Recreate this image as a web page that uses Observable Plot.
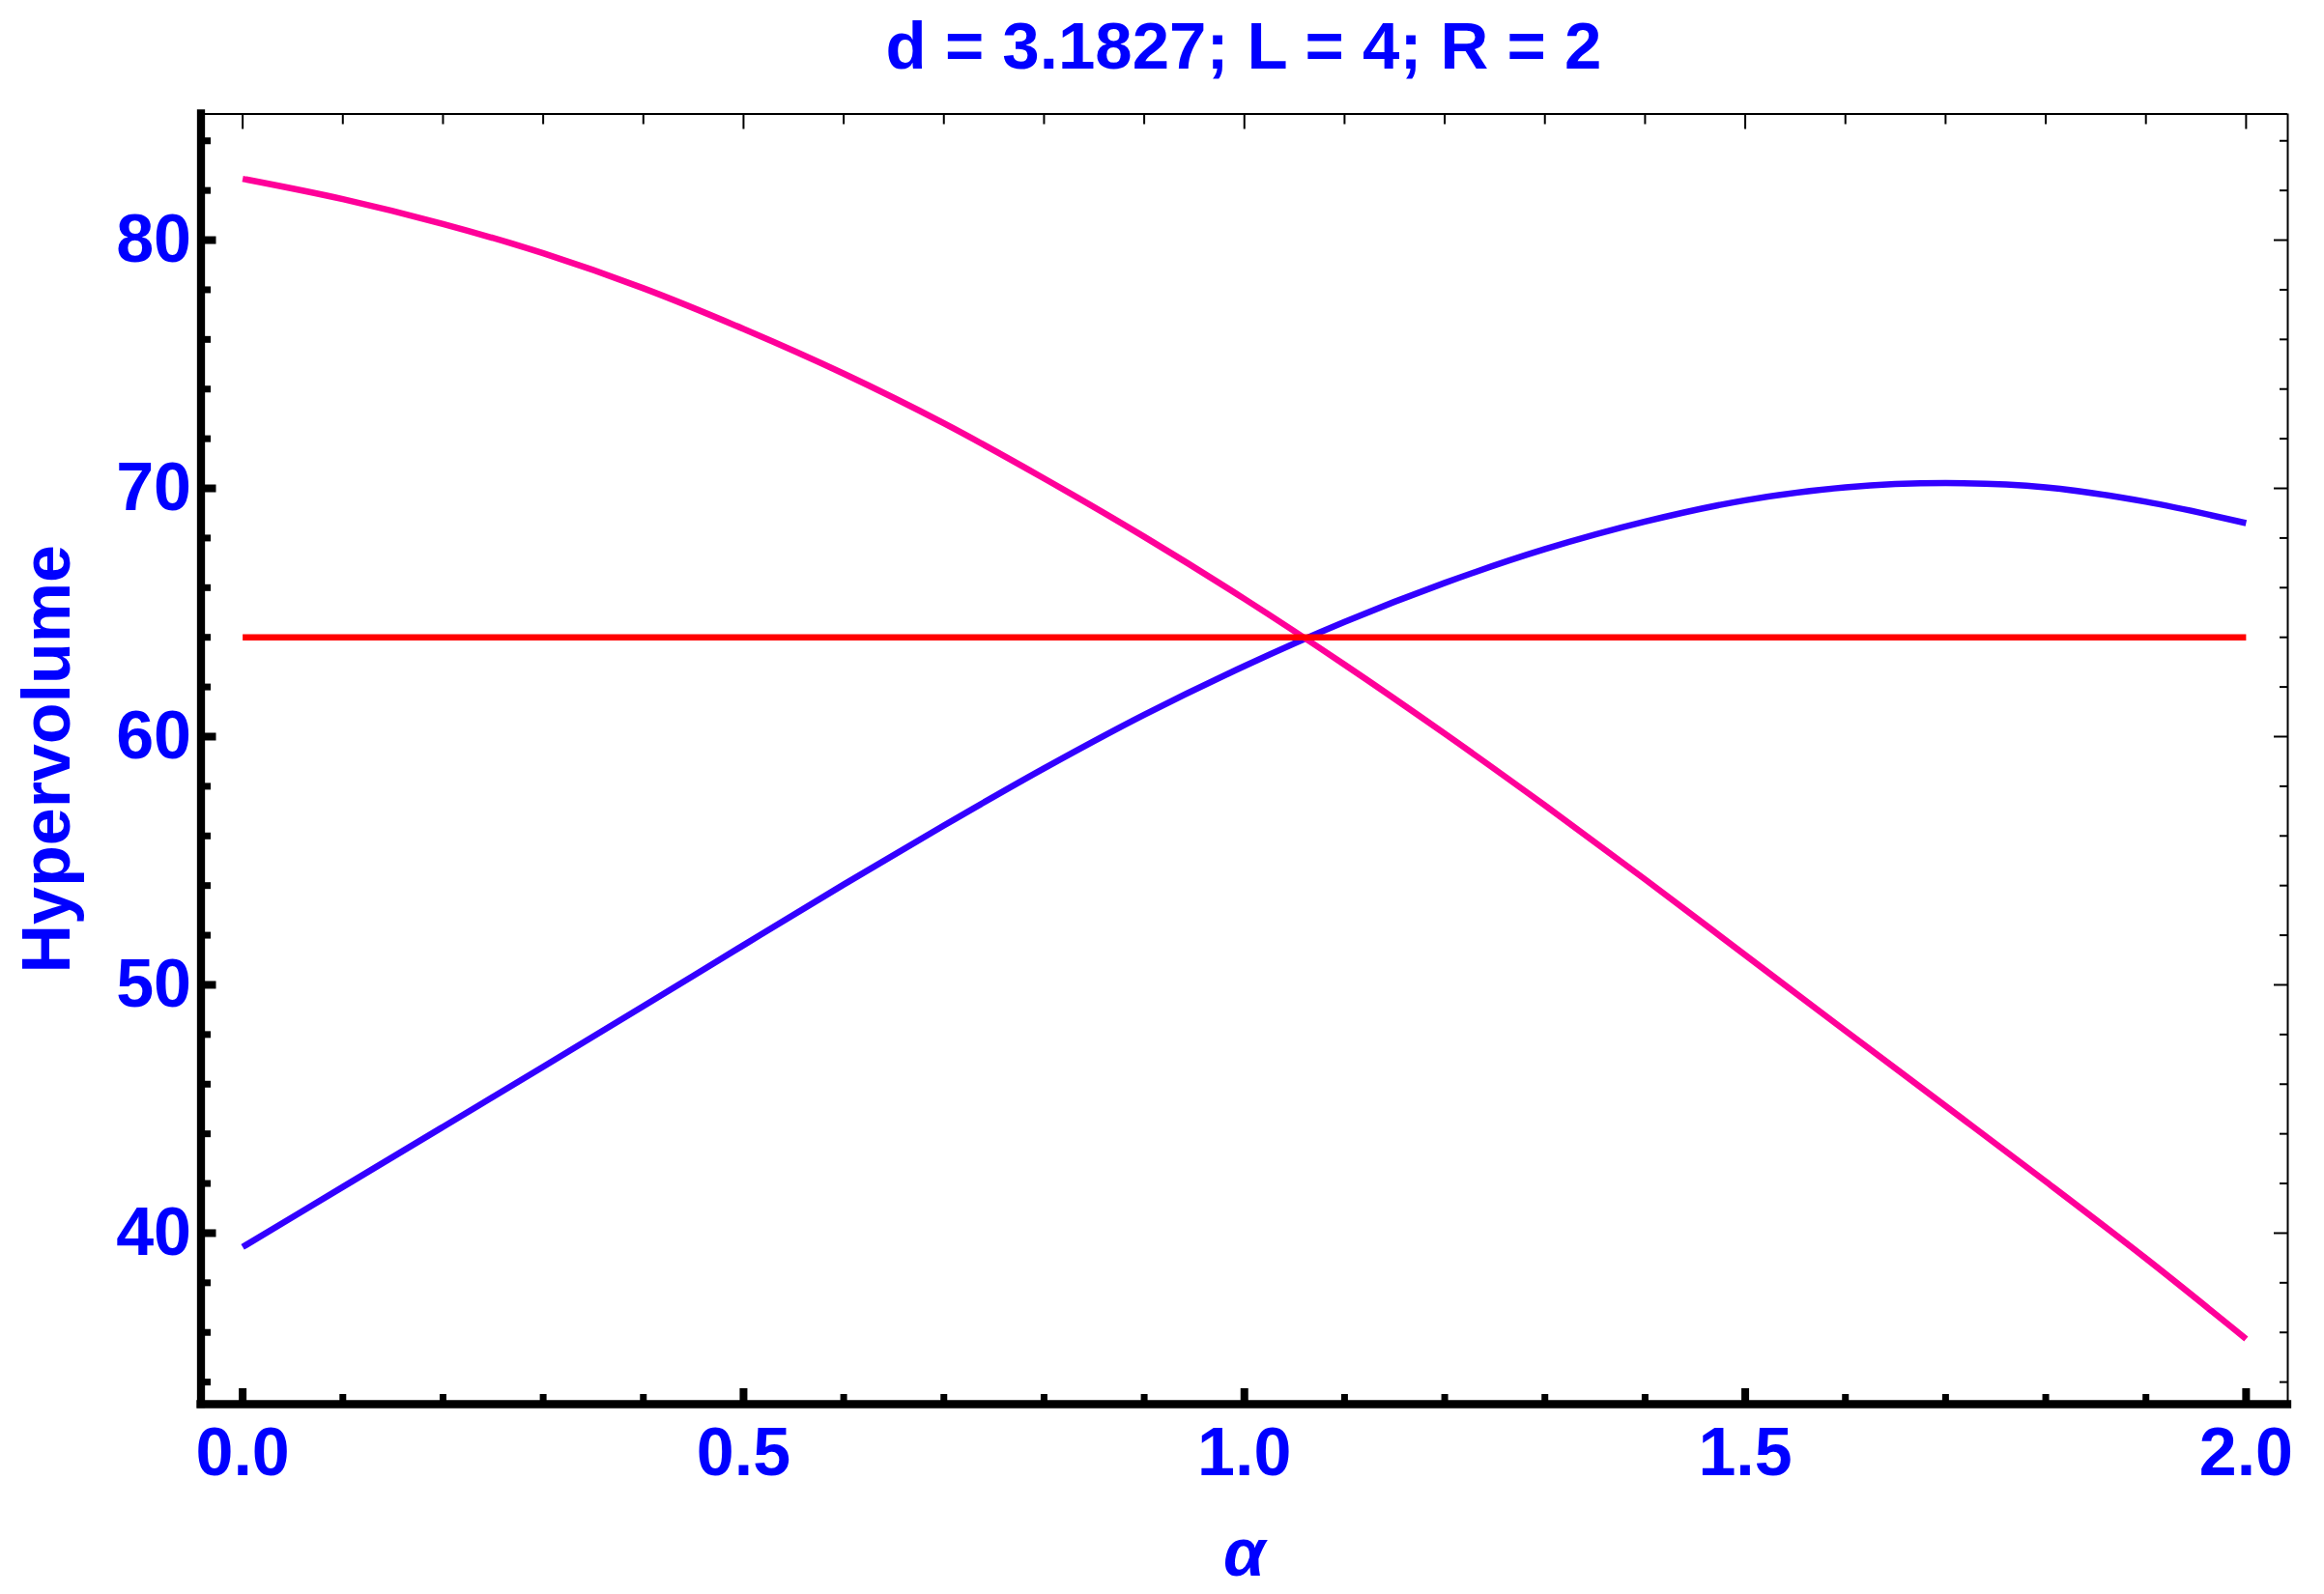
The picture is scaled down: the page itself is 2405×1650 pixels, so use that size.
<!DOCTYPE html>
<html>
<head>
<meta charset="utf-8">
<script src="https://cdn.jsdelivr.net/npm/d3@7"></script>
<script src="https://cdn.jsdelivr.net/npm/@observablehq/plot@0.6"></script>
<style>
html, body { margin: 0; padding: 0; background: #ffffff; }
body { width: 2405px; height: 1650px; overflow: hidden; font-family: "Liberation Sans", Arial, sans-serif; }
#title {
  box-sizing: border-box; width: 2405px; height: 100px;
  padding-left: 207px; padding-right: 38px;
  text-align: center; font-size: 69px; font-weight: bold; color: #0000ff;
  line-height: 95px; white-space: nowrap;
}
#chart svg { display: block; }
</style>
</head>
<body>
<div id="title">d = 3.1827; L = 4; R = 2</div>
<div id="chart"></div>
<script>
// ---- data ----
const alpha = [0, 0.1, 0.2, 0.3, 0.4, 0.5, 0.6, 0.7, 0.8, 0.9, 1.0,
               1.1, 1.2, 1.3, 1.4, 1.5, 1.6, 1.7, 1.8, 1.9, 2.0];
const blueValues = [39.44, 41.86, 44.28, 46.70, 49.14, 51.60, 54.04, 56.42, 58.72, 60.88, 62.84,
                    64.62, 66.19, 67.55, 68.66, 69.52, 70.04, 70.21, 70.04, 69.46, 68.6];
const pinkValues = [82.47, 81.65, 80.65, 79.47, 78.06, 76.42, 74.62, 72.62, 70.4, 68.05, 65.55,
                    62.9, 60.12, 57.23, 54.25, 51.2, 48.15, 45.12, 42.08, 38.98, 35.74];
const redAlpha = [0, 2];
const redValues = [64, 64];

const xMajorTicks = [0, 0.5, 1, 1.5, 2];
const xTickLabels = ["0.0", "0.5", "1.0", "1.5", "2.0"];
const xMinorTicks = [0.1, 0.2, 0.3, 0.4, 0.6, 0.7, 0.8, 0.9, 1.1, 1.2, 1.3, 1.4, 1.6, 1.7, 1.8, 1.9];
const yMajorTicks = [40, 50, 60, 70, 80];
const yTickLabels = ["40", "50", "60", "70", "80"];
const yMinorTicks = [34, 36, 38, 42, 44, 46, 48, 52, 54, 56, 58, 62, 64, 66, 68, 72, 74, 76, 78, 82, 84];

const xLabel = "α";
const yLabel = "Hypervolume";

const xDomain = [-0.0416, 2.0416];
const yDomain = [33.11, 85.08];

// ---- tables built from the arrays ----
const blueData = alpha.map((a, i) => ({a, v: blueValues[i]}));
const pinkData = alpha.map((a, i) => ({a, v: pinkValues[i]}));
const redData = redAlpha.map((a, i) => ({a, v: redValues[i]}));

const BLUE_TEXT = "#0000ff";
const FONT = '"Liberation Sans", Arial, sans-serif';

const chart = Plot.plot({
  width: 2405,
  height: 1550,
  marginLeft: 207.5,
  marginRight: 38,
  marginTop: 17.5,
  marginBottom: 197,
  x: {domain: xDomain},
  y: {domain: yDomain},
  style: {fontFamily: FONT, background: "#ffffff", overflow: "visible", color: "black"},
  marks: [
    Plot.line(blueData, {x: "a", y: "v", stroke: "#3300ff", strokeWidth: 6.5, curve: "catmull-rom", strokeLinecap: "butt"}),
    Plot.line(pinkData, {x: "a", y: "v", stroke: "#ff0099", strokeWidth: 6.5, curve: "catmull-rom", strokeLinecap: "butt"}),
    Plot.line(redData, {x: "a", y: "v", stroke: "#ff0000", strokeWidth: 6.5, strokeLinecap: "butt"}),

    // frame: thin top/right, thick left/bottom
    Plot.ruleY([yDomain[1]], {stroke: "black", strokeWidth: 2}),
    Plot.ruleX([xDomain[1]], {stroke: "black", strokeWidth: 2}),
    Plot.ruleX([xDomain[0]], {stroke: "black", strokeWidth: 8.3, strokeLinecap: "square"}),
    Plot.ruleY([yDomain[0]], {stroke: "black", strokeWidth: 8.3, strokeLinecap: "square"}),

    // inward ticks, bottom & left (thick)
    Plot.axisX({anchor: "bottom", ticks: xMajorTicks, tickSize: -16, strokeWidth: 8, fill: "none", label: null}),
    Plot.axisX({anchor: "bottom", ticks: xMinorTicks, tickSize: -10, strokeWidth: 7, fill: "none", label: null}),
    Plot.axisY({anchor: "left", ticks: yMajorTicks, tickSize: -16, strokeWidth: 8, fill: "none", label: null}),
    Plot.axisY({anchor: "left", ticks: yMinorTicks, tickSize: -10.5, strokeWidth: 7, fill: "none", label: null}),
    // inward ticks, top & right (thin)
    Plot.axisX({anchor: "top", ticks: xMajorTicks, tickSize: -15, strokeWidth: 2, fill: "none", label: null}),
    Plot.axisX({anchor: "top", ticks: xMinorTicks, tickSize: -10, strokeWidth: 2, fill: "none", label: null}),
    Plot.axisY({anchor: "right", ticks: yMajorTicks, tickSize: -15, strokeWidth: 2, fill: "none", label: null}),
    Plot.axisY({anchor: "right", ticks: yMinorTicks, tickSize: -9, strokeWidth: 2, fill: "none", label: null}),

    // tick labels
    Plot.axisX({anchor: "bottom", ticks: xMajorTicks, tickSize: 0, tickPadding: 24,
      tickFormat: d => xTickLabels[xMajorTicks.indexOf(d)],
      fontSize: 70, fontWeight: "bold", fill: BLUE_TEXT, label: null}),
    Plot.axisY({anchor: "left", ticks: yMajorTicks, tickSize: 0, tickPadding: 10,
      tickFormat: d => yTickLabels[yMajorTicks.indexOf(d)],
      fontSize: 70, fontWeight: "bold", fill: BLUE_TEXT, label: null}),

    // axis labels
    Plot.text([yLabel], {text: d => d, frameAnchor: "left", textAnchor: "middle", rotate: -90, dx: -136.5,
      lineAnchor: "bottom", fontSize: 70, fontWeight: "bold", fill: BLUE_TEXT}),
    Plot.text([xLabel], {text: d => d, frameAnchor: "bottom", textAnchor: "middle", dy: 177, lineAnchor: "bottom",
      fontSize: 70, fontWeight: "bold", fontStyle: "italic", fill: BLUE_TEXT})
  ]
});

document.getElementById("chart").appendChild(chart);
</script>
</body>
</html>
